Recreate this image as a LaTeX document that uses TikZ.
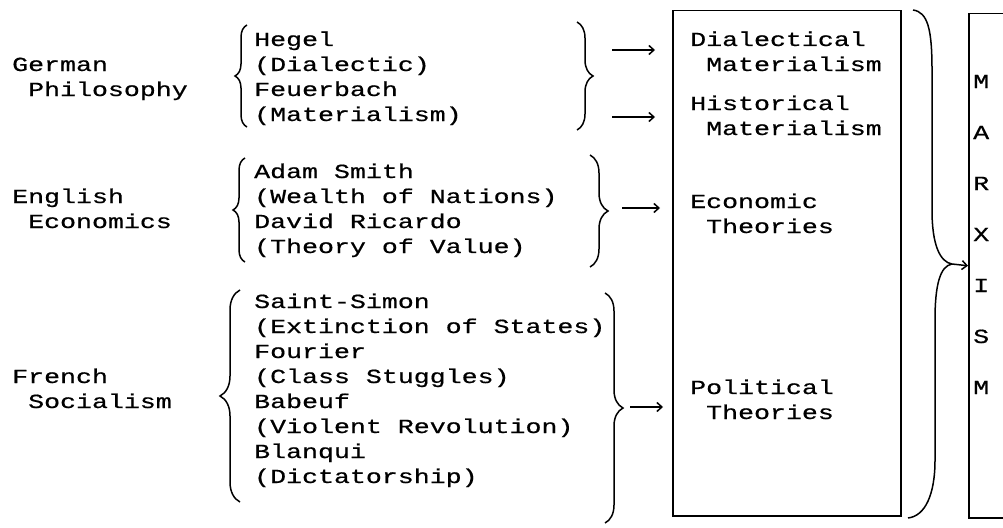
\documentclass[tikz,border=0pt]{standalone}
\usepackage{fontspec}
\newfontfamily\typeFont[FakeStretch=1.33,FakeBold=0.6]{Liberation Mono}
\usetikzlibrary{arrows.meta,decorations.pathreplacing}
\newcommand{\indentChar}{\phantom{M}}
\newcommand{\sourceBrace}[4]{%%
  %% A brace from (#1,#2) to (#1,#3) with amplitude #4.
  \draw[braceStyle=#4] (#1,#2) -- (#1,#3);
}

\begin{document}
\begin{tikzpicture}[%%
  x=1pt,y=-1pt,%%
  textStyle/.style={anchor=base west,inner sep=0pt,align=left,%%
    font=\typeFont\fontsize{20}{25}\selectfont},%%
  boxStyle/.style={draw,line width=1.5pt,inner sep=0pt,anchor=north west},%%
  braceStyle/.style={decorate,decoration={brace,amplitude=#1},line width=1.5pt},%%
  arrowStyle/.style={-{Straight Barb[length=5pt,width=9pt]},line width=1.5pt},%%
  lineStyle/.style={-,line width=1.5pt}
]
%%
\clip (0,0) rectangle (1003,527);
%%
%% The two boxes.
\node[boxStyle,minimum width=228pt,minimum height=505pt] (midBox) at (672,10) {};
\node[boxStyle,minimum width=80pt,minimum height=504pt] (marxBox) at (968,13) {};
%%
%% The sources on the left (placed by the baseline of their last line).
\node[textStyle] (german) at (12,96) {German\\\indentChar Philosophy};
\node[textStyle] (germanList) at (254,121) {Hegel\\(Dialectic)\\Feuerbach\\(Materialism)};
\node[textStyle] (english) at (12,228) {English\\\indentChar Economics};
\node[textStyle] (englishList) at (254,253) {Adam Smith\\(Wealth of Nations)\\David Ricardo\\(Theory of Value)};
\node[textStyle] (french) at (12,408) {French\\\indentChar Socialism};
\node[textStyle] (frenchList) at (254,483) {Saint-Simon\\(Extinction of States)\\Fourier\\(Class Stuggles)\\Babeuf\\(Violent Revolution)\\Blanqui\\(Dictatorship)};
%%
%% The theories in the middle box.
\node[textStyle] (dialMat) at (690,71) {Dialectical\\\indentChar Materialism};
\node[textStyle] (histMat) at (690,135) {Historical\\\indentChar Materialism};
\node[textStyle] (econTheory) at (690,233) {Economic\\\indentChar Theories};
\node[textStyle] (politTheory) at (690,419) {Political\\\indentChar Theories};
%%
%% The letters of the last box.
\foreach \letter [count=\i] in {M,A,R,X,I,S,M}
  \node[textStyle] (marx\i) at (973,{88+51*(\i-1)}) {\letter};
%%
%% Braces round the names.
\sourceBrace{247}{127}{25}{12pt}
\sourceBrace{245}{262}{158}{12pt}
\sourceBrace{240}{502}{290}{20pt}
\sourceBrace{577}{22}{130}{16pt}
\sourceBrace{590}{155}{267}{18pt}
\sourceBrace{605}{293}{523}{18pt}
%%
%% Arrows into the middle box.
\coordinate (germanTipA) at (612,50);
\coordinate (germanTipB) at (612,117);
\coordinate (englishTip) at (622,208);
\coordinate (frenchTip) at (630,407);
\draw[arrowStyle,shorten >=17pt] (germanTipA) -- (germanTipA -| midBox.west);
\draw[arrowStyle,shorten >=17pt] (germanTipB) -- (germanTipB -| midBox.west);
\draw[arrowStyle,shorten >=12pt] (englishTip) -- (englishTip -| midBox.west);
\draw[arrowStyle,shorten >=9pt] (frenchTip) -- (frenchTip -| midBox.west);
%%
%% The big brace and its arrow.
\coordinate (bigTop) at (913,10);
\coordinate (bigTip) at (952,264);
\coordinate (bigBottom) at (908,518);
\draw[lineStyle] (bigTop) .. controls (928,12) and (932,30) .. (932,70)
  -- (932,210) .. controls (932,245) and (940,262) .. (bigTip);
\draw[lineStyle] (bigTip) .. controls (940,266) and (935,285) .. (935,320)
  -- (935,460) .. controls (935,495) and (925,516) .. (bigBottom);
\draw[arrowStyle] (bigTip) -- (marxBox.west);
\end{tikzpicture}
\end{document}
